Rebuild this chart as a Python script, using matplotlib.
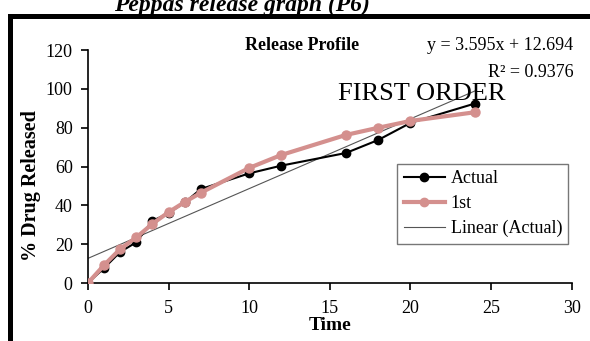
import matplotlib.pyplot as plt
from matplotlib.patches import Rectangle
from matplotlib.lines import Line2D

plt.rcParams['font.family'] = ['Liberation Serif', 'DejaVu Serif']

# data
time = [0, 1, 2, 3, 4, 5, 6, 7, 10, 12, 16, 18, 20, 24]
actual = [0, 7.7, 16, 21, 32, 36, 41.5, 48.4, 56.5, 60.5, 67, 73.7, 82.5, 92.5]
first = [0, 9.2, 17.5, 23.5, 30.5, 36.5, 41.7, 46.5, 59.3, 66, 76.3, 80, 83.5, 88]
slope = 3.595
intercept = 12.694
r2 = 0.9376
trend_x = [0, 24]

fig = plt.figure(figsize=(5.9, 3.41), dpi=100)
ax = fig.add_axes([0.149, 0.170, 0.820, 0.683])

# outer frame of the screenshot
fig.patches.append(Rectangle((10 / 590, -0.2), 1.2, 1.2 - 16 / 341,
                             transform=fig.transFigure, fill=False,
                             edgecolor='black', linewidth=3.6, zorder=0))
fig.text(0.41, 1 - 11 / 341, 'Peppas release graph (P6)', ha='center', va='baseline',
         fontsize=17, fontweight='bold', fontstyle='italic')

ax.plot(trend_x, [slope * v + intercept for v in trend_x], color='#555555', linewidth=0.8,
        label='Linear (Actual)', zorder=2)
ax.plot(time, actual, color='black', marker='o', markersize=6, linewidth=1.5,
        label='Actual', zorder=3)
ax.plot(time, first, color='#D4908E', marker='o', markersize=6.5, linewidth=3,
        label='1st', zorder=4)

ax.set_xlim(0, 30)
ax.set_ylim(0, 120)
ax.set_xticks(range(0, 31, 5))
ax.set_yticks(range(0, 121, 20))
ax.spines['top'].set_visible(False)
ax.spines['right'].set_visible(False)
ax.spines['left'].set_linewidth(1.2)
ax.spines['bottom'].set_linewidth(1.2)
ax.tick_params(direction='out', length=5, width=1.2, labelsize=13)
ax.tick_params(axis='x', pad=7)
ax.tick_params(axis='y', pad=6)
ax.set_xlabel('Time', fontsize=14, fontweight='bold')
ax.xaxis.set_label_coords(0.5, -0.145)
ax.set_ylabel('% Drug Released', fontsize=14.5, fontweight='bold')
ax.yaxis.set_label_coords(-0.097, 0.42)

ax.text(0.443, 1.02, 'Release Profile', transform=ax.transAxes, ha='center', va='center',
        fontsize=13, fontweight='bold')
ax.text(1.003, 1.02, 'y = %.3fx + %.3f' % (slope, intercept), transform=ax.transAxes,
        ha='right', va='center', fontsize=13)
ax.text(1.003, 0.905, 'R² = %.4f' % r2, transform=ax.transAxes, ha='right', va='center',
        fontsize=13)
ax.text(0.69, 0.81, 'FIRST ORDER', transform=ax.transAxes, ha='center', va='center',
        fontsize=19)

handles = [Line2D([], [], color='black', marker='o', markersize=6, linewidth=1.5),
           Line2D([], [], color='#D4908E', marker='o', markersize=6, linewidth=3),
           Line2D([], [], color='#555555', linewidth=0.8)]
leg = ax.legend(handles, ['Actual', '1st', 'Linear (Actual)'], loc='lower right',
                bbox_to_anchor=(1.012, 0.13), fontsize=13, frameon=True, fancybox=False,
                handlelength=2.3, handletextpad=0.3, borderpad=0.35, labelspacing=0.45)
leg.get_frame().set_edgecolor('#555555')
leg.get_frame().set_linewidth(1.0)

fig.savefig('out.png', dpi=100)
